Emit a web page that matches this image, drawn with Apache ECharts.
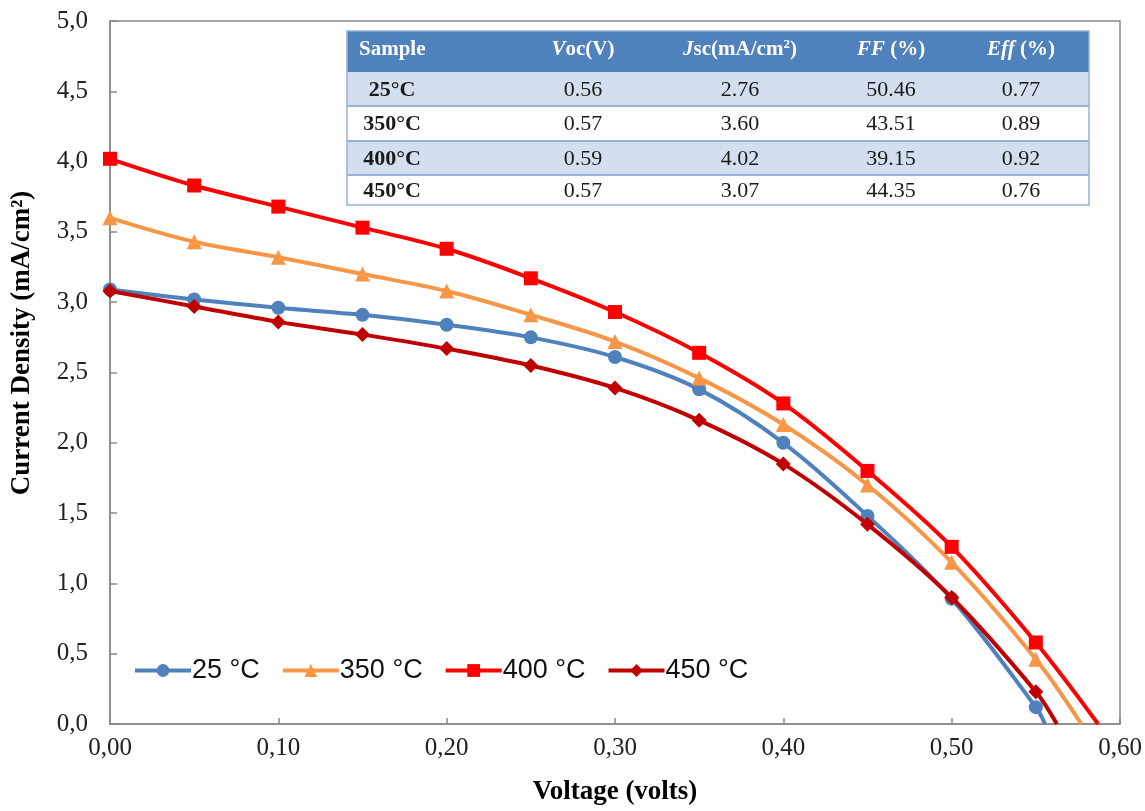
<!DOCTYPE html>
<html>
<head>
<meta charset="utf-8">
<script src="https://cdn.jsdelivr.net/npm/echarts@6/dist/echarts.min.js"></script>
<style>
  html, body { margin: 0; padding: 0; background: #fff; }
  #chart { width: 1145px; height: 811px; }
</style>
</head>
<body>
<div id="chart"></div>
<script>
// J-V curves, values
var voltages = [0, 0.05, 0.10, 0.15, 0.20, 0.25, 0.30, 0.35, 0.40, 0.45, 0.50, 0.55];
var j25  = [3.09, 3.02, 2.96, 2.91, 2.84, 2.75, 2.61, 2.38, 2.00, 1.48, 0.89, 0.12];
var j350 = [3.60, 3.43, 3.32, 3.20, 3.08, 2.91, 2.72, 2.46, 2.13, 1.70, 1.15, 0.46];
var j400 = [4.02, 3.83, 3.68, 3.53, 3.38, 3.17, 2.93, 2.64, 2.28, 1.80, 1.26, 0.58];
var j450 = [3.08, 2.97, 2.86, 2.77, 2.67, 2.55, 2.39, 2.16, 1.85, 1.42, 0.90, 0.23];
// where each curve meets the x axis
var vocEnd = [0.5555, 0.577, 0.587, 0.5625];

var seriesNames = ['25 °C', '350 °C', '400 °C', '450 °C'];
var seriesColors = ['#4F81BD', '#F79646', '#FF0000', '#C00000'];
var seriesSymbols = ['circle', 'triangle', 'rect', 'diamond'];
var seriesSizes = [14, 15, 14, 15];

// inset table
var tableSamples = ['25°C', '350°C', '400°C', '450°C'];
var tableVoc = ['0.56', '0.57', '0.59', '0.57'];
var tableJsc = ['2.76', '3.60', '4.02', '3.07'];
var tableFF = ['50.46', '43.51', '39.15', '44.35'];
var tableEff = ['0.77', '0.89', '0.92', '0.76'];

var serif = '"Liberation Serif", "Times New Roman", serif';

function buildData(ys, voc) {
    var d = [];
    for (var i = 0; i < voltages.length; i++) {
        d.push([voltages[i], ys[i]]);
    }
    d.push({ value: [voc, 0], symbol: 'none' });
    return d;
}

var allJ = [j25, j350, j400, j450];
var series = [];
for (var s = 0; s < 4; s++) {
    series.push({
        name: seriesNames[s],
        type: 'line',
        smooth: 0.35,
        data: buildData(allJ[s], vocEnd[s]),
        symbol: seriesSymbols[s],
        symbolSize: seriesSizes[s],
        showAllSymbol: true,
        lineStyle: { color: seriesColors[s], width: 4 },
        itemStyle: { color: seriesColors[s] },
        z: 2 + s
    });
}

// table geometry
var tblLeft = 347, tblRight = 1089;
var rowLines = [31, 72, 106, 141, 175, 205];
var colCenters = [392, 583, 740, 891, 1021];

var graphics = [];
// header background
graphics.push({
    type: 'rect', shape: { x: tblLeft, y: rowLines[0], width: tblRight - tblLeft, height: rowLines[1] - rowLines[0] },
    style: { fill: '#4F81BD' }, z: 10
});
for (var r = 0; r < 4; r++) {
    graphics.push({
        type: 'rect', shape: { x: tblLeft, y: rowLines[r + 1], width: tblRight - tblLeft, height: rowLines[r + 2] - rowLines[r + 1] },
        style: { fill: r % 2 === 0 ? '#D3DFEE' : '#FFFFFF' }, z: 10
    });
}
for (var k = 2; k < rowLines.length - 1; k++) {
    graphics.push({
        type: 'line', shape: { x1: tblLeft, y1: rowLines[k], x2: tblRight, y2: rowLines[k] },
        style: { stroke: '#95B3D7', lineWidth: 2 }, z: 11
    });
}
graphics.push({
    type: 'rect', shape: { x: tblLeft, y: rowLines[0], width: tblRight - tblLeft, height: rowLines[5] - rowLines[0] },
    style: { fill: 'none', stroke: '#95B3D7', lineWidth: 1.5 }, z: 12
});

var headerRich = {
    i: { fontStyle: 'italic', fontWeight: 'bold', fontFamily: serif, fontSize: 21, fill: '#fff', color: '#fff' },
    sup: { fontWeight: 'bold', fontFamily: serif, fontSize: 13, fill: '#fff', color: '#fff', verticalAlign: 'top', padding: [0, 0, 9, 0] }
};
var headers = ['Sample', '{i|V}oc(V)', '{i|J}sc(mA/cm{sup|2})', '{i|FF} (%)', '{i|Eff} (%)'];
for (var c = 0; c < headers.length; c++) {
    graphics.push({
        type: 'text', z: 13,
        x: c === 0 ? 359 : colCenters[c], y: (rowLines[0] + rowLines[1]) / 2 - 2,
        style: {
            text: headers[c], rich: headerRich,
            font: 'bold 21px ' + serif, fill: '#fff',
            align: c === 0 ? 'left' : 'center', verticalAlign: 'middle'
        }
    });
}
var cols = [tableSamples, tableVoc, tableJsc, tableFF, tableEff];
for (var rr = 0; rr < 4; rr++) {
    var yc = (rowLines[rr + 1] + rowLines[rr + 2]) / 2 + 1;
    for (var cc = 0; cc < cols.length; cc++) {
        graphics.push({
            type: 'text', z: 13,
            x: colCenters[cc], y: yc,
            style: {
                text: cols[cc][rr],
                font: (cc === 0 ? 'bold ' : '') + '22px ' + serif,
                fill: '#1a1a1a', align: 'center', verticalAlign: 'middle'
            }
        });
    }
}
// y axis title
graphics.push({
    type: 'text', z: 13, x: 22, y: 343, rotation: Math.PI / 2,
    style: {
        text: 'Current Density (mA/cm²)', font: 'bold 27px ' + serif,
        fill: '#000', align: 'center', verticalAlign: 'middle'
    }
});

function commaFmt(digits) {
    return function (v) { return v.toFixed(digits).replace('.', ','); };
}

var chart = echarts.init(document.getElementById('chart'));
chart.setOption({
    animation: false,
    backgroundColor: '#fff',
    grid: {
        left: 110, right: 25, top: 21, bottom: 83,
        show: true, borderColor: '#888', borderWidth: 1.5, backgroundColor: 'transparent'
    },
    legend: {
        left: 128, top: 652,
        itemWidth: 56, itemHeight: 16, itemGap: 21,
        lineStyle: { width: 4 },
        textStyle: { fontFamily: '"Liberation Sans", Arial, sans-serif', fontSize: 27, color: '#111', padding: [0, 0, 0, -4] },
        data: seriesNames
    },
    xAxis: {
        type: 'value', min: 0, max: 0.6, interval: 0.1,
        name: 'Voltage (volts)', nameLocation: 'middle', nameGap: 55,
        nameTextStyle: { fontFamily: serif, fontWeight: 'bold', fontSize: 27, color: '#000' },
        axisLine: { show: true, lineStyle: { color: '#888', width: 1.5 } },
        axisTick: { show: true, inside: true, length: 6, lineStyle: { color: '#888', width: 1.5 } },
        axisLabel: { formatter: commaFmt(2), fontFamily: serif, fontSize: 25, color: '#222', margin: 12 },
        splitLine: { show: false }
    },
    yAxis: {
        type: 'value', min: 0, max: 5, interval: 0.5,
        axisLine: { show: true, lineStyle: { color: '#888', width: 1.5 } },
        axisTick: { show: true, inside: true, length: 7, lineStyle: { color: '#888', width: 1.5 } },
        axisLabel: { formatter: commaFmt(1), fontFamily: serif, fontSize: 25, color: '#222', margin: 22 },
        splitLine: { show: false }
    },
    graphic: graphics,
    series: series
});
</script>
</body>
</html>
